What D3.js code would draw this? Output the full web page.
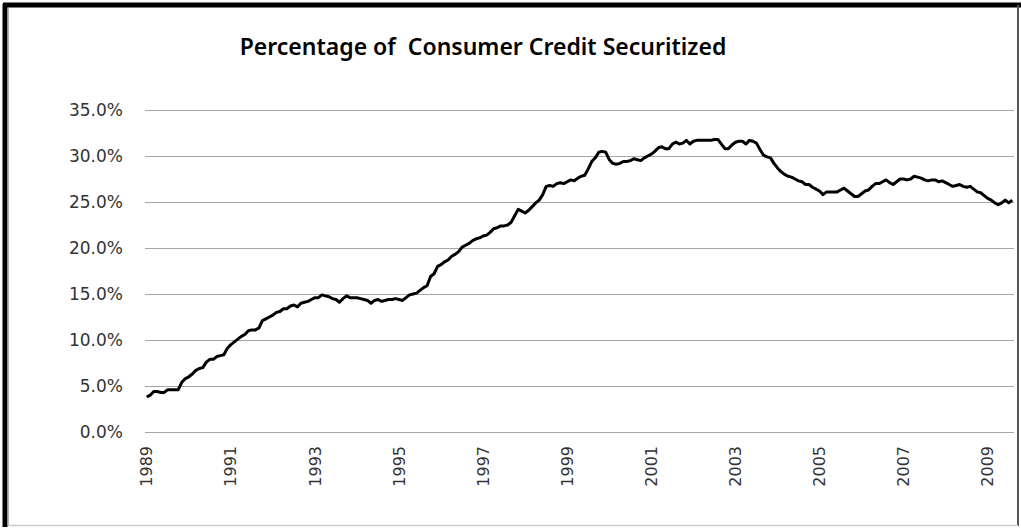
<!DOCTYPE html>
<html>
<head>
<meta charset="utf-8">
<script src="https://cdn.jsdelivr.net/npm/d3@7"></script>
<style>
  body { margin: 0; background: #fff; }
  svg { display: block; }
  .y-axis text, .x-axis text { font-family: "DejaVu Sans", sans-serif; fill: #333; }
</style>
</head>
<body>
<div id="chart"></div>
<script>
// monthly share of consumer credit securitized (%), Jan 1989 - Aug 2009
const startYear = 1989;
const securitizedPct = [
    3.8, 4.0, 4.4, 4.4, 4.3, 4.3, 4.6, 4.6, 4.6, 4.6, 5.4, 5.8,          // 1989
    6.0, 6.3, 6.7, 6.9, 7.0, 7.6, 7.9, 7.9, 8.2, 8.3, 8.4, 9.1,          // 1990
    9.5, 9.8, 10.1, 10.4, 10.6, 11.0, 11.1, 11.1, 11.3, 12.1, 12.3, 12.5, // 1991
    12.7, 13.0, 13.1, 13.4, 13.4, 13.7, 13.8, 13.6, 14.0, 14.1, 14.2, 14.4, // 1992
    14.6, 14.6, 14.9, 14.8, 14.7, 14.5, 14.4, 14.1, 14.5, 14.8, 14.6, 14.6, // 1993
    14.6, 14.5, 14.4, 14.3, 14.0, 14.3, 14.4, 14.2, 14.3, 14.4, 14.4, 14.5, // 1994
    14.4, 14.3, 14.6, 14.9, 15.0, 15.1, 15.4, 15.7, 15.9, 16.9, 17.2, 18.0, // 1995
    18.2, 18.5, 18.7, 19.1, 19.3, 19.6, 20.1, 20.3, 20.5, 20.8, 21.0, 21.1, // 1996
    21.3, 21.4, 21.7, 22.1, 22.2, 22.4, 22.4, 22.5, 22.8, 23.5, 24.2, 24.0, // 1997
    23.8, 24.1, 24.5, 24.9, 25.2, 25.8, 26.7, 26.8, 26.7, 27.0, 27.1, 27.0, // 1998
    27.2, 27.4, 27.3, 27.6, 27.8, 27.9, 28.6, 29.4, 29.8, 30.4, 30.5, 30.4, // 1999
    29.6, 29.2, 29.1, 29.2, 29.4, 29.4, 29.5, 29.7, 29.6, 29.5, 29.8, 30.0, // 2000
    30.2, 30.5, 30.9, 31.0, 30.8, 30.8, 31.3, 31.5, 31.3, 31.4, 31.7, 31.3, // 2001
    31.6, 31.7, 31.7, 31.7, 31.7, 31.7, 31.8, 31.8, 31.3, 30.8, 30.8, 31.2, // 2002
    31.5, 31.6, 31.6, 31.3, 31.7, 31.6, 31.4, 30.7, 30.1, 29.9, 29.8, 29.2, // 2003
    28.7, 28.3, 28.0, 27.8, 27.7, 27.5, 27.3, 27.2, 26.9, 26.9, 26.6, 26.4, // 2004
    26.2, 25.8, 26.1, 26.1, 26.1, 26.1, 26.3, 26.5, 26.2, 25.9, 25.6, 25.6, // 2005
    25.9, 26.2, 26.3, 26.7, 27.0, 27.0, 27.2, 27.4, 27.1, 26.9, 27.2, 27.5, // 2006
    27.5, 27.4, 27.5, 27.8, 27.7, 27.6, 27.4, 27.3, 27.4, 27.4, 27.2, 27.3, // 2007
    27.1, 26.9, 26.7, 26.8, 26.9, 26.7, 26.6, 26.7, 26.4, 26.1, 26.0, 25.7, // 2008
    25.4, 25.2, 24.9, 24.7, 24.9, 25.2, 24.9, 25.2                          // 2009
];
const yTicks = [0, 5, 10, 15, 20, 25, 30, 35];
const yearLabels = ["1989", "1991", "1993", "1995", "1997", "1999", "2001", "2003", "2005", "2007", "2009"];

const width = 1021;
const height = 529;
const margin = { top: 110, right: 7, bottom: 97, left: 145 };
const innerWidth = width - margin.left - margin.right;
const innerHeight = height - margin.top - margin.bottom;

const data = securitizedPct.map((v, i) => ({
    key: `${startYear + Math.floor(i / 12)}-${i % 12}`,
    value: v
}));

const svg = d3.select("#chart")
    .append("svg")
        .attr("width", width)
        .attr("height", height);

// frame
svg.append("rect")
    .attr("x", 0).attr("y", 0)
    .attr("width", width).attr("height", height)
    .attr("fill", "#fff");
svg.append("line").attr("x1", 5).attr("x2", 5).attr("y1", 4).attr("y2", 527)
    .attr("stroke", "#000").attr("stroke-width", 5);
svg.append("line").attr("x1", 8).attr("x2", 8).attr("y1", 8).attr("y2", 525)
    .attr("stroke", "#999").attr("stroke-width", 1.5);
svg.append("line").attr("x1", 3).attr("x2", width).attr("y1", 5).attr("y2", 5)
    .attr("stroke", "#000").attr("stroke-width", 5);
svg.append("line").attr("x1", 1018).attr("x2", 1018).attr("y1", 5).attr("y2", 526)
    .attr("stroke", "#555").attr("stroke-width", 2);
svg.append("line").attr("x1", 8).attr("x2", 1018).attr("y1", 525.5).attr("y2", 525.5)
    .attr("stroke", "#ccc").attr("stroke-width", 1.5);

svg.append("text")
    .text("Percentage of\u00a0 Consumer Credit Securitized")
    .attr("x", 483)
    .attr("y", 55)
    .attr("text-anchor", "middle")
    .style("font-family", "'Noto Sans', sans-serif")
    .style("font-size", "23px")
    .style("font-weight", 600)
    .attr("fill", "#000");

const innerChart = svg.append("g")
    .attr("transform", `translate(${margin.left}, ${margin.top})`);

const xScale = d3.scaleBand()
    .domain(data.map(d => d.key))
    .range([0, innerWidth]);

const yScale = d3.scaleLinear()
    .domain([0, 35])
    .range([innerHeight, 0]);

// gridlines + y labels
const yAxis = d3.axisLeft(yScale)
    .tickValues(yTicks)
    .tickSize(-innerWidth)
    .tickPadding(22)
    .tickFormat(d => d3.format(".1f")(d) + "%");

innerChart.append("g")
    .attr("class", "y-axis")
    .call(yAxis)
    .call(g => g.select(".domain").remove())
    .call(g => g.selectAll(".tick line").attr("stroke", "#a6a6a6").attr("stroke-width", 1.2))
    .call(g => g.selectAll("text").style("font-size", "17px"));

// x labels every two years (January)
const labelKeys = yearLabels.map(y => `${y}-0`);
const xAxis = d3.axisBottom(xScale)
    .tickValues(labelKeys)
    .tickSize(0)
    .tickFormat(k => k.split("-")[0]);

innerChart.append("g")
    .attr("class", "x-axis")
    .attr("transform", `translate(0, ${innerHeight})`)
    .call(xAxis)
    .call(g => g.select(".domain").remove())
    .call(g => g.selectAll("text")
        .style("font-size", "16px")
        .attr("text-anchor", "end")
        .attr("x", 0)
        .attr("y", 0)
        .attr("dy", "0.35em")
        .attr("transform", "translate(0, 14) rotate(-90)"));

const lineGenerator = d3.line()
    .x(d => xScale(d.key) + xScale.bandwidth() / 2)
    .y(d => yScale(d.value));

innerChart.append("path")
    .datum(data)
    .attr("d", lineGenerator)
    .attr("fill", "none")
    .attr("stroke", "#000")
    .attr("stroke-width", 3)
    .attr("stroke-linejoin", "round");
</script>
</body>
</html>
